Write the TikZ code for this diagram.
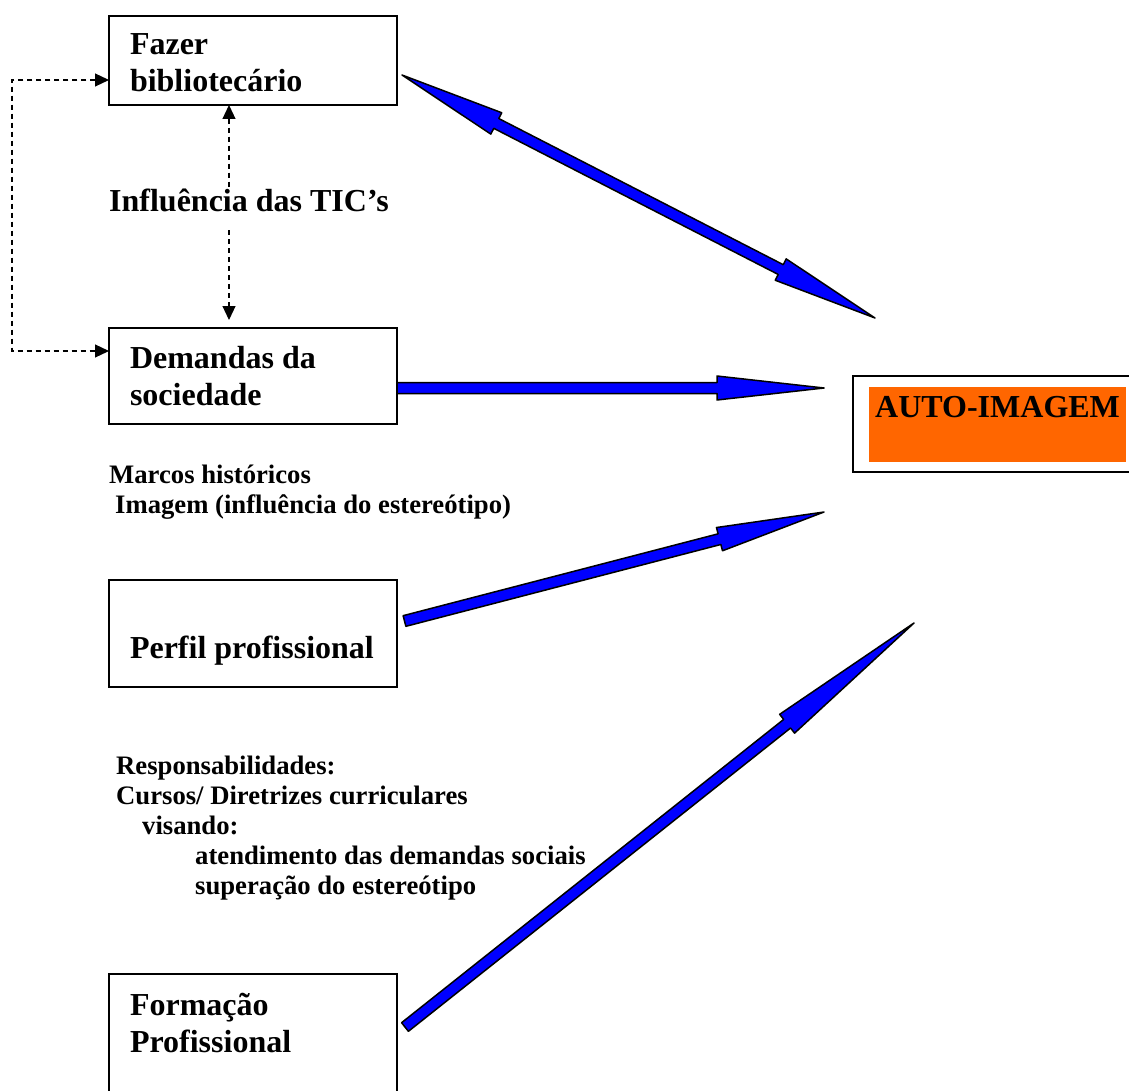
\documentclass[tikz,border=0pt]{standalone}
\usepackage{fontspec}
\setmainfont{Liberation Serif}
\usepackage{tikz}
\usetikzlibrary{calc}
\usetikzlibrary{arrows.meta}
\usetikzlibrary{positioning}

\definecolor{autoorange}{RGB}{255,102,0}
\newcommand{\bigtxt}{\fontsize{32}{37}\selectfont\bfseries}
\newcommand{\smalltxt}{\fontsize{26.67}{30}\selectfont\bfseries}

\newcommand{\blockarrow}[3]{%
  \path ($(#2)!#3!(#1)$) coordinate (hb);
  \filldraw[bluearrow] ($(#1)!5.5pt!90:(#2)$) -- ($(hb)!5.5pt!90:(#2)$) -- ($(hb)!12pt!90:(#2)$) -- (#2)
    -- ($(hb)!12pt!-90:(#2)$) -- ($(hb)!5.5pt!-90:(#2)$) -- ($(#1)!5.5pt!-90:(#2)$) -- cycle;
}
\newcommand{\doublearrow}[3]{%
  \path ($(#1)!#3!(#2)$) coordinate (ha) ($(#2)!#3!(#1)$) coordinate (hb);
  \filldraw[bluearrow] (#1) -- ($(ha)!12pt!90:(#2)$) -- ($(ha)!5.5pt!90:(#2)$) -- ($(hb)!5.5pt!90:(#2)$)
    -- ($(hb)!12pt!90:(#2)$) -- (#2) -- ($(hb)!12pt!-90:(#2)$) -- ($(hb)!5.5pt!-90:(#2)$)
    -- ($(ha)!5.5pt!-90:(#2)$) -- ($(ha)!12pt!-90:(#2)$) -- cycle;
}

\tikzset{
  box/.style={draw, line width=1.5pt, outer sep=0pt, inner xsep=21pt, inner ysep=0pt,
    text width=246pt, align=flush left, anchor=north west, font=\bigtxt},
  note/.style={inner sep=0pt, anchor=base west, align=flush left, text width=600pt, font=\smalltxt},
  dtip/.tip={Triangle[length=14pt,width=13pt]},
  dashline/.style={line width=1.2pt, dash pattern=on 5pt off 4pt},
  bluearrow/.style={fill=blue, draw=black, line width=1.5pt, line join=round}
}

\begin{document}
\begin{tikzpicture}[x=1pt, y=-1pt]
  \useasboundingbox (0,0) rectangle (1129,1091);

  \node[box, text height=39pt, text depth=50pt] (fazer) at (109,16) {Fazer\\bibliotecário};
  \node[box, text height=40pt, text depth=56pt] (demandas) at (109,328) {Demandas da\\sociedade};
  \node[box, text height=78pt, text depth=29pt] (perfil) at (109,580) {\mbox{Perfil profissional}};
  \node[box, text height=41pt, text depth=136pt] (formacao) at (109,974) {Formação\\Profissional};

  \node[font=\bigtxt, inner sep=0pt, text height=25pt, text depth=18pt, anchor=base west] (tic) at (109,212) {Influência das TIC’s};
  \node[note] (marcos) at (109,483) {Marcos históricos\\\hspace*{6pt}Imagem (influência do estereótipo)};
  \node[note] (resp) at (116,774) {Responsabilidades:\\Cursos/ Diretrizes curriculares\\\hspace*{26pt}visando:\\
    \hspace*{79pt}atendimento das demandas sociais\\\hspace*{79pt}superação do estereótipo};

  \node[draw, line width=1.5pt, outer sep=0pt, anchor=north west, minimum width=300pt, minimum height=96pt] (autobox) at (853,376) {};
  \node[fill=autoorange, anchor=north west, inner xsep=6pt, inner ysep=0pt, minimum width=256pt,
    text height=30pt, text depth=45pt, font=\bigtxt] (auto) at (869,387) {AUTO-IMAGEM};

  \coordinate (lt) at (12,80);
  \coordinate (lb) at (12,351);
  \coordinate (vx) at (229,0);
  \draw[dashline, dtip-dtip] (fazer.west |- lt) -- (lt) -- (lb) -- (demandas.west |- lb);
  \draw[dashline, dtip-] (fazer.south -| vx) -- (tic.north -| vx);
  \draw[dashline, -dtip, shorten >=8pt] (tic.south -| vx) -- (demandas.north -| vx);

  \coordinate (s1) at ([shift={(5,14.5)}]fazer.east);
  \coordinate (s2) at ([shift={(0,12)}]demandas.east);
  \coordinate (s3) at ([shift={(7.5,-12.5)}]perfil.east);
  \coordinate (s4) at ([shift={(8,53)}]formacao.north east);
  \coordinate (t1) at (875,318);
  \coordinate (t2) at (824,388);
  \coordinate (t3) at (824,512);
  \coordinate (t4) at (914,623);

  \doublearrow{s1}{t1}{106pt}
  \blockarrow{s2}{t2}{107pt}
  \blockarrow{s3}{t3}{108pt}
  \blockarrow{s4}{t4}{162pt}
\end{tikzpicture}
\end{document}
